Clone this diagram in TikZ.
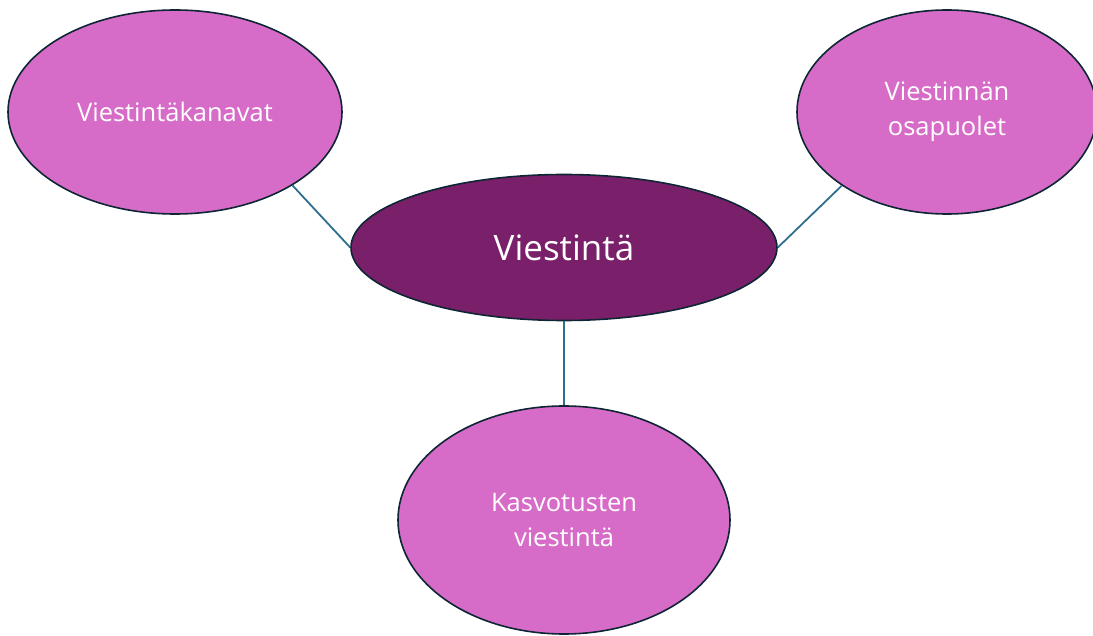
\documentclass[tikz,border=0pt]{standalone}
\usepackage{fontspec}
\setmainfont{Open Sans}
\usetikzlibrary{shapes.geometric}
\definecolor{lightp}{RGB}{215,108,200}
\definecolor{darkp}{RGB}{122,31,106}
\definecolor{edgec}{RGB}{14,38,52}
\definecolor{linkc}{RGB}{46,111,143}
\begin{document}
\begin{tikzpicture}[x=1pt,y=-1pt,
  bubble/.style={ellipse,draw=edgec,line width=1.6pt,fill=lightp,text=white,inner sep=0pt,align=center,font=\fontsize{25.5}{35}\selectfont},
  hub/.style={ellipse,draw=edgec,line width=1.6pt,fill=darkp,text=white,inner sep=0pt,align=center,font=\fontsize{35}{40}\selectfont},
  link/.style={draw=linkc,line width=1.8pt}]
\useasboundingbox (0,0) rectangle (1093,636);
\node[bubble,minimum width=334pt,minimum height=204pt] (kan) at (175,112) {Viestintäkanavat};
\node[bubble,minimum width=300pt,minimum height=204pt] (osa) at (947,112) {Viestinnän\\osapuolet};
\node[hub,minimum width=426pt,minimum height=146pt] (hub) at (564,247.5) {Viestintä};
\node[bubble,minimum width=332pt,minimum height=228pt] (kas) at (564,520) {Kasvotusten\\viestintä};
\draw[link] (kan.-32) -- (hub.west);
\draw[link] (osa.215) -- (hub.east);
\draw[link] (hub.south) -- (kas.north);
\end{tikzpicture}
\end{document}
